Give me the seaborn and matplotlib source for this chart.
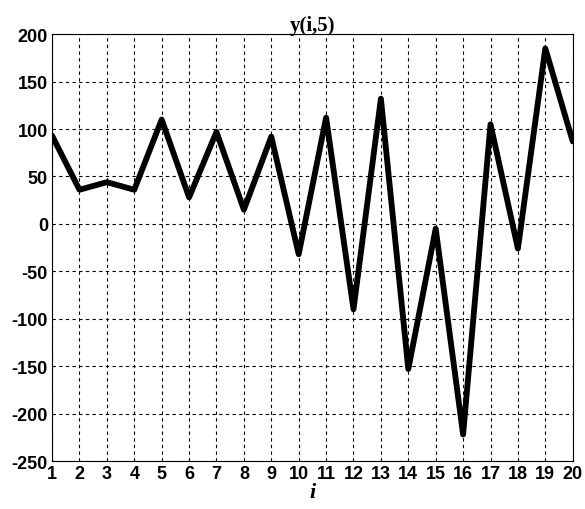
import pandas as pd
import seaborn as sns
import matplotlib.pyplot as plt

i_vals = list(range(1, 21))
y_vals = [93, 36, 44, 36, 110, 28, 97, 15, 92, -32,
          112, -90, 132, -153, -5, -222, 105, -26, 185, 87]

df = pd.DataFrame({"i": i_vals, "y": y_vals})

sns.set_style("white")
plt.rcParams["font.family"] = ["Liberation Sans", "DejaVu Sans"]
plt.rcParams["axes.unicode_minus"] = False
plt.rcParams["text.color"] = "black"
plt.rcParams["axes.labelcolor"] = "black"

fig = plt.figure(figsize=(5.85, 5.1), dpi=100)
ax = fig.add_axes([0.089, 0.094, 0.890, 0.837])

sns.lineplot(data=df, x="i", y="y", color="black", linewidth=4.2, ax=ax)

ax.set_xlim(1, 20)
ax.set_ylim(-250, 200)
ax.set_xticks(i_vals)
ax.set_yticks(range(-250, 201, 50))
ax.grid(True, color="black", linestyle=(0, (3, 3)), linewidth=0.8)
for s in ax.spines.values():
    s.set_color("black")
    s.set_linewidth(0.8)
ax.tick_params(direction="in", length=4, labelsize=13, pad=3, colors="black")
for lab in ax.get_xticklabels() + ax.get_yticklabels():
    lab.set_fontweight("bold")

ax.set_title("y(i,5)", fontfamily="Liberation Serif", fontweight="bold",
             fontsize=15, pad=3, color="black")
ax.set_xlabel("i", fontfamily="Liberation Serif", fontweight="bold",
              fontstyle="italic", fontsize=16, labelpad=0)
ax.set_ylabel("")

fig.savefig("out.png", dpi=100)
